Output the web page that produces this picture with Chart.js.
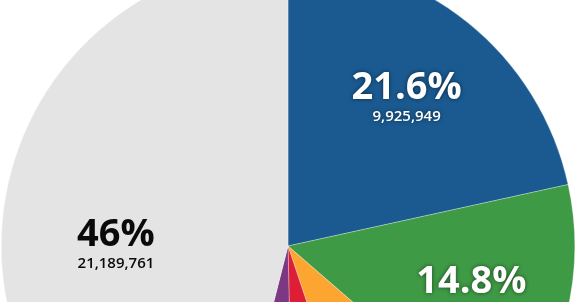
<!DOCTYPE html>
<html>
<head>
<meta charset="utf-8">
<script src="https://cdn.jsdelivr.net/npm/chart.js@4/dist/chart.umd.min.js"></script>
<style>
  html, body { margin: 0; padding: 0; background: #fff; }
  body { width: 575px; height: 302px; overflow: hidden; position: relative; }
  #wrap { position: absolute; left: 1px; top: -41px; width: 574px; height: 574px; }
</style>
</head>
<body>
<div id="wrap"><canvas id="pie" width="574" height="574"></canvas></div>
<script>
// slices, clockwise from 12 o'clock
var categories = ["Blue", "Green", "Orange", "Red", "Purple", "Grey"];
var values = [9925949, 6815000, 3910000, 2210000, 1985000, 21189761];
var colors = ["#1a5a90", "#3f9a45", "#fca531", "#dd1e34", "#7c3882", "#e4e4e4"];
var labelColors = ["#fff", "#fff", "#fff", "#fff", "#fff", "#0a0a0a"];

var total = values.reduce(function(a, b) { return a + b; }, 0);

function pct(v) {
  var p = Math.round(v / total * 1000) / 10;
  return (p % 1 === 0 ? p.toFixed(0) : p.toFixed(1)) + "%";
}

// where along each arc the label sits (fraction of the sweep, fraction of radius)
var labelSpots = { 5: { at: 0.457, r: 0.6 } };

var sliceLabels = {
  id: "sliceLabels",
  afterDatasetsDraw: function(chart) {
    var ctx = chart.ctx;
    var meta = chart.getDatasetMeta(0);
    meta.data.forEach(function(arc, i) {
      var p = arc.getProps(["x", "y", "startAngle", "endAngle", "outerRadius"], true);
      var spot = labelSpots[i] || { at: 0.5, r: 0.66 };
      var a = p.startAngle + (p.endAngle - p.startAngle) * spot.at;
      var x = p.x + Math.cos(a) * p.outerRadius * spot.r;
      var y = p.y + Math.sin(a) * p.outerRadius * spot.r;

      ctx.save();
      ctx.textAlign = "center";
      ctx.textBaseline = "alphabetic";
      ctx.fillStyle = labelColors[i];
      if (labelColors[i] === "#fff") {
        ctx.shadowColor = "rgba(0,0,0,0.55)";
        ctx.shadowBlur = 4;
      }
      ctx.font = "bold 38px 'Open Sans'";
      ctx.fillText(pct(values[i]), x, y);
      ctx.font = "600 15px 'Open Sans'";
      ctx.fillText(values[i].toLocaleString("en-US"), x, y + 22);
      ctx.restore();
    });
  }
};

new Chart(document.getElementById("pie"), {
  type: "pie",
  data: {
    labels: categories,
    datasets: [{
      data: values,
      backgroundColor: colors,
      borderColor: "rgba(255,255,255,0.6)",
      borderWidth: 0.5
    }]
  },
  options: {
    responsive: false,
    animation: false,
    layout: { padding: 0 },
    plugins: {
      legend: { display: false },
      tooltip: { enabled: false }
    }
  },
  plugins: [sliceLabels]
});
</script>
</body>
</html>
